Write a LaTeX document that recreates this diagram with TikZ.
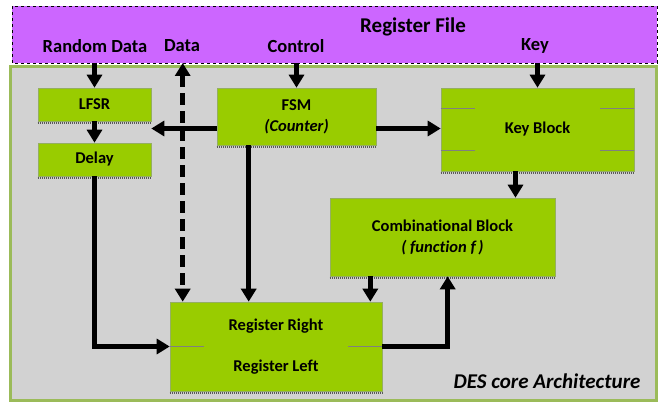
\documentclass[tikz,border=0pt]{standalone}
\usepackage{fontspec}
\setmainfont{Carlito}[Ligatures=NoCommon]
\usetikzlibrary{arrows.meta}
\definecolor{regpurple}{RGB}{204,102,255}
\definecolor{blockgreen}{RGB}{153,204,0}
\definecolor{panelgray}{RGB}{210,210,210}
\definecolor{panelgreen}{RGB}{155,187,89}
\begin{document}
\begin{tikzpicture}[x=1pt,y=-1pt,
  blk/.style={draw=panelgreen!80!gray,fill=blockgreen,line width=0.6pt,inner sep=0pt,
    font=\fontsize{16.5}{21}\selectfont\bfseries,align=center},
  lbl/.style={font=\fontsize{18.5}{20}\selectfont\bfseries,inner sep=0pt},
  arr/.style={line width=4.5pt,-{Triangle[width=15pt,length=13pt]}},
  tick/.style={draw=gray,line width=1pt}]
\useasboundingbox (0,0) rectangle (658,403);
% register file and core panel
\draw[fill=regpurple,dashed,line width=0.8pt] (12,6) rectangle (657,63);
\coordinate (rfs) at (12,63);
\draw[fill=panelgray,draw=panelgreen,line width=3pt] (10.5,66.5) rectangle (656.5,400);
\node[lbl,font=\fontsize{21}{24}\selectfont\bfseries] (rf) at (413,27) {Register File};
\node[lbl] (rnd) at (95,46) {Random Data};
\node[lbl] (data) at (182,46) {Data};
\node[lbl] (ctrl) at (296,46) {Control};
\node[lbl] (key) at (535,46) {Key};
% blocks
\node[blk,minimum width=113pt,minimum height=33pt] (lfsr) at (94.5,104.5) {LFSR};
\node[blk,minimum width=113pt,minimum height=33pt] (delay) at (94.5,159.5) {Delay};
\node[blk,minimum width=159pt,minimum height=57pt] (fsm) at (296.5,116.5) {FSM\\\itshape(Counter)};
\node[blk,minimum width=193pt,minimum height=83pt] (keyb) at (537.5,129.5) {Key Block};
\node[blk,minimum width=225pt,minimum height=78pt] (comb) at (442.5,237) {Combinational Block\\\itshape( function f\,)};
\node[blk,minimum width=212pt,minimum height=89pt,font=\fontsize{16.5}{41}\selectfont\bfseries] (reg) at (276,346.5) {Register Right\\Register Left};
\node[font=\fontsize{21}{24}\selectfont\bfseries\itshape,inner sep=0pt] (des) at (547,381) {DES core Architecture};
% shadows
\foreach \b in {lfsr,delay,fsm,keyb,comb,reg}
  \draw[gray!70!black,line width=2pt,dash pattern=on 1pt off 1pt] ([yshift=-1.5pt]\b.south west) -- ([yshift=-1.5pt]\b.south east);
% inner marks
\draw[tick] (reg.west) -- ++(34,0);
\draw[tick] (reg.east) -- ++(-34,0);
\draw[tick] ([yshift=-21pt]keyb.north west) -- ++(34,0);
\draw[tick] ([yshift=21pt]keyb.south west) -- ++(34,0);
\draw[tick] ([yshift=-21pt]keyb.north east) -- ++(-34,0);
\draw[tick] ([yshift=21pt]keyb.south east) -- ++(-34,0);
% connections
\draw[arr] (lfsr.north |- rfs) -- (lfsr.north);
\draw[arr] (fsm.north |- rfs) -- (fsm.north);
\draw[arr] (keyb.north |- rfs) -- (keyb.north);
\draw[arr,{Triangle[width=15pt,length=13pt]}-{Triangle[width=15pt,length=13pt]},dash pattern=on 12pt off 6pt]
  ([xshift=13pt]reg.north west |- rfs) -- ([xshift=13pt]reg.north west);
\draw[arr] ([yshift=-12pt]fsm.west) -- ([yshift=-12pt]fsm.west -| lfsr.east);
\draw[arr] ([yshift=-12pt]fsm.east) -- ([yshift=-12pt]fsm.east -| keyb.west);
\draw[arr] (lfsr.south) -- (delay.north);
\draw[arr] (delay.south) |- (reg.west);
\draw[arr] ([xshift=32pt]fsm.south west) -- ([xshift=32pt]fsm.south west |- reg.north);
\draw[arr] ([xshift=-22pt]keyb.south) -- ([xshift=-22pt]keyb.south |- comb.north);
\draw[arr] ([xshift=-12pt]reg.north east |- comb.south) -- ([xshift=-12pt]reg.north east);
\draw[arr] (reg.east) -| ([xshift=118pt]comb.south west);
\end{tikzpicture}
\end{document}
